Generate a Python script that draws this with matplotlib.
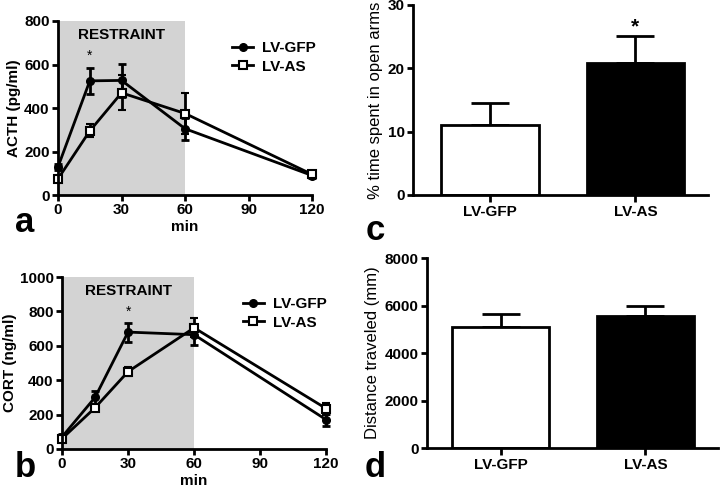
import matplotlib
matplotlib.use("Agg")
import matplotlib.pyplot as plt
from matplotlib.lines import Line2D
import numpy as np

plt.rcParams['font.family'] = ['Liberation Sans', 'DejaVu Sans']
plt.rcParams['font.weight'] = 'bold'
plt.rcParams['axes.labelweight'] = 'bold'

# ---- data ----
time_min = [0, 15, 30, 60, 120]
time_ticks = [0, 30, 60, 90, 120]

acth_gfp = [130, 525, 527, 305, 90]
acth_gfp_err = [15, 60, 75, 50, 10]
acth_as = [75, 295, 470, 375, 95]
acth_as_err = [10, 30, 80, 95, 10]

cort_gfp = [70, 300, 680, 665, 170]
cort_gfp_err = [15, 40, 55, 60, 35]
cort_as = [60, 240, 450, 705, 235]
cort_as_err = [10, 20, 25, 55, 35]

groups = ["LV-GFP", "LV-AS"]
open_arms = [11.1, 20.8]
open_arms_err = [3.4, 4.3]
distance = [5100, 5560]
distance_err = [540, 420]

restraint_window = [0, 60]

LW = 2.0
TICK_FS = 11

fig = plt.figure(figsize=(7.2, 4.94), dpi=100)

def style_axes(ax):
    for s in ['top', 'right']:
        ax.spines[s].set_visible(False)
    for s in ['left', 'bottom']:
        ax.spines[s].set_linewidth(LW)
        ax.spines[s].set_zorder(4)
    ax.tick_params(width=LW, length=4, labelsize=TICK_FS, direction='out', pad=2)
    for lab in ax.get_xticklabels() + ax.get_yticklabels():
        lab.set_fontweight('bold')

def line_panel(ax, gfp, gfp_err, as_, as_err, ymax, ystep, ylabel, star_x, star_y, legend_anchor):
    ax.axvspan(restraint_window[0], restraint_window[1], color='#d3d3d3', zorder=0, lw=0)
    ax.errorbar(time_min, gfp, yerr=gfp_err, color='black', lw=LW, marker='o', ms=5.5,
                mfc='black', mec='black', capsize=3, capthick=LW, elinewidth=LW, zorder=3,
                clip_on=False)
    ax.errorbar(time_min, as_, yerr=as_err, color='black', lw=LW, marker='s', ms=5.5,
                mfc='white', mec='black', mew=1.5, capsize=3, capthick=LW, elinewidth=LW, zorder=3,
                clip_on=False)
    ax.set_xlim(0, 120)
    ax.set_ylim(0, ymax)
    ax.set_xticks(time_ticks)
    ax.set_yticks(np.arange(0, ymax + 1, ystep))
    ax.set_xlabel('min', fontsize=11, fontweight='bold', labelpad=2)
    ax.set_ylabel(ylabel, fontsize=11, fontweight='bold', labelpad=2)
    ax.text(30, ymax * 0.92, 'RESTRAINT', ha='center', va='center', fontsize=11, fontweight='bold')
    ax.text(star_x, star_y, '*', ha='center', va='center', fontsize=10, fontweight='normal')
    handles = [
        Line2D([0], [0], color='black', lw=LW, marker='o', ms=5.5, mfc='black', mec='black'),
        Line2D([0], [0], color='black', lw=LW, marker='s', ms=5.5, mfc='white', mec='black', mew=1.5),
    ]
    leg = ax.legend(handles, ['LV-GFP', 'LV-AS'], loc='upper left', bbox_to_anchor=legend_anchor,
                    frameon=False, fontsize=11, handlelength=1.4, handletextpad=0.6,
                    labelspacing=0.3, borderaxespad=0)
    for t in leg.get_texts():
        t.set_fontweight('bold')
    style_axes(ax)

# panel a
ax_a = fig.add_axes([0.0806, 0.605, 0.353, 0.3525])
line_panel(ax_a, acth_gfp, acth_gfp_err, acth_as, acth_as_err, 800, 200,
           'ACTH (pg/ml)', 15, 640, (0.66, 0.92))

# panel b
ax_b = fig.add_axes([0.0861, 0.0911, 0.367, 0.348])
line_panel(ax_b, cort_gfp, cort_gfp_err, cort_as, cort_as_err, 1000, 200,
           'CORT (ng/ml)', 30, 800, (0.66, 0.92))

def bar_panel(ax, vals, errs, ymax, ystep, ylabel, xlim, star=None):
    x = np.arange(len(groups))
    ax.bar(x, vals, width=0.67, color=['white', 'black'], edgecolor='black', linewidth=LW, zorder=2)
    ax.errorbar(x, vals, yerr=[[0, 0], errs], fmt='none', ecolor='black', elinewidth=LW,
                capsize=14, capthick=LW, zorder=1)
    ax.set_xlim(*xlim)
    ax.set_ylim(0, ymax)
    ax.set_xticks(x)
    ax.set_xticklabels(groups, fontsize=TICK_FS, fontweight='bold')
    ax.set_yticks(np.arange(0, ymax + 1, ystep))
    ax.set_ylabel(ylabel, fontsize=12, fontweight='normal', labelpad=3)
    if star is not None:
        ax.text(star[0], star[1], '*', ha='center', va='center', fontsize=15, fontweight='bold')
    style_axes(ax)
    ax.tick_params(axis='x', length=5)

# panel c
ax_c = fig.add_axes([0.5736, 0.6053, 0.4097, 0.3846])
bar_panel(ax_c, open_arms, open_arms_err, 30, 10, '% time spent in open arms',
          (-0.53, 1.5), star=(1, 26.6))

# panel d
ax_d = fig.add_axes([0.593, 0.0931, 0.404, 0.3846])
bar_panel(ax_d, distance, distance_err, 8000, 2000, 'Distance traveled (mm)',
          (-0.51, 1.5))

# panel letters
for letter, (x, y) in {'a': (25, 222), 'b': (25, 467), 'c': (375, 230), 'd': (375, 467)}.items():
    fig.text(x / 720, 1 - y / 494, letter, ha='center', va='center', fontsize=25, fontweight='bold')

fig.savefig('out.png', dpi=100)
